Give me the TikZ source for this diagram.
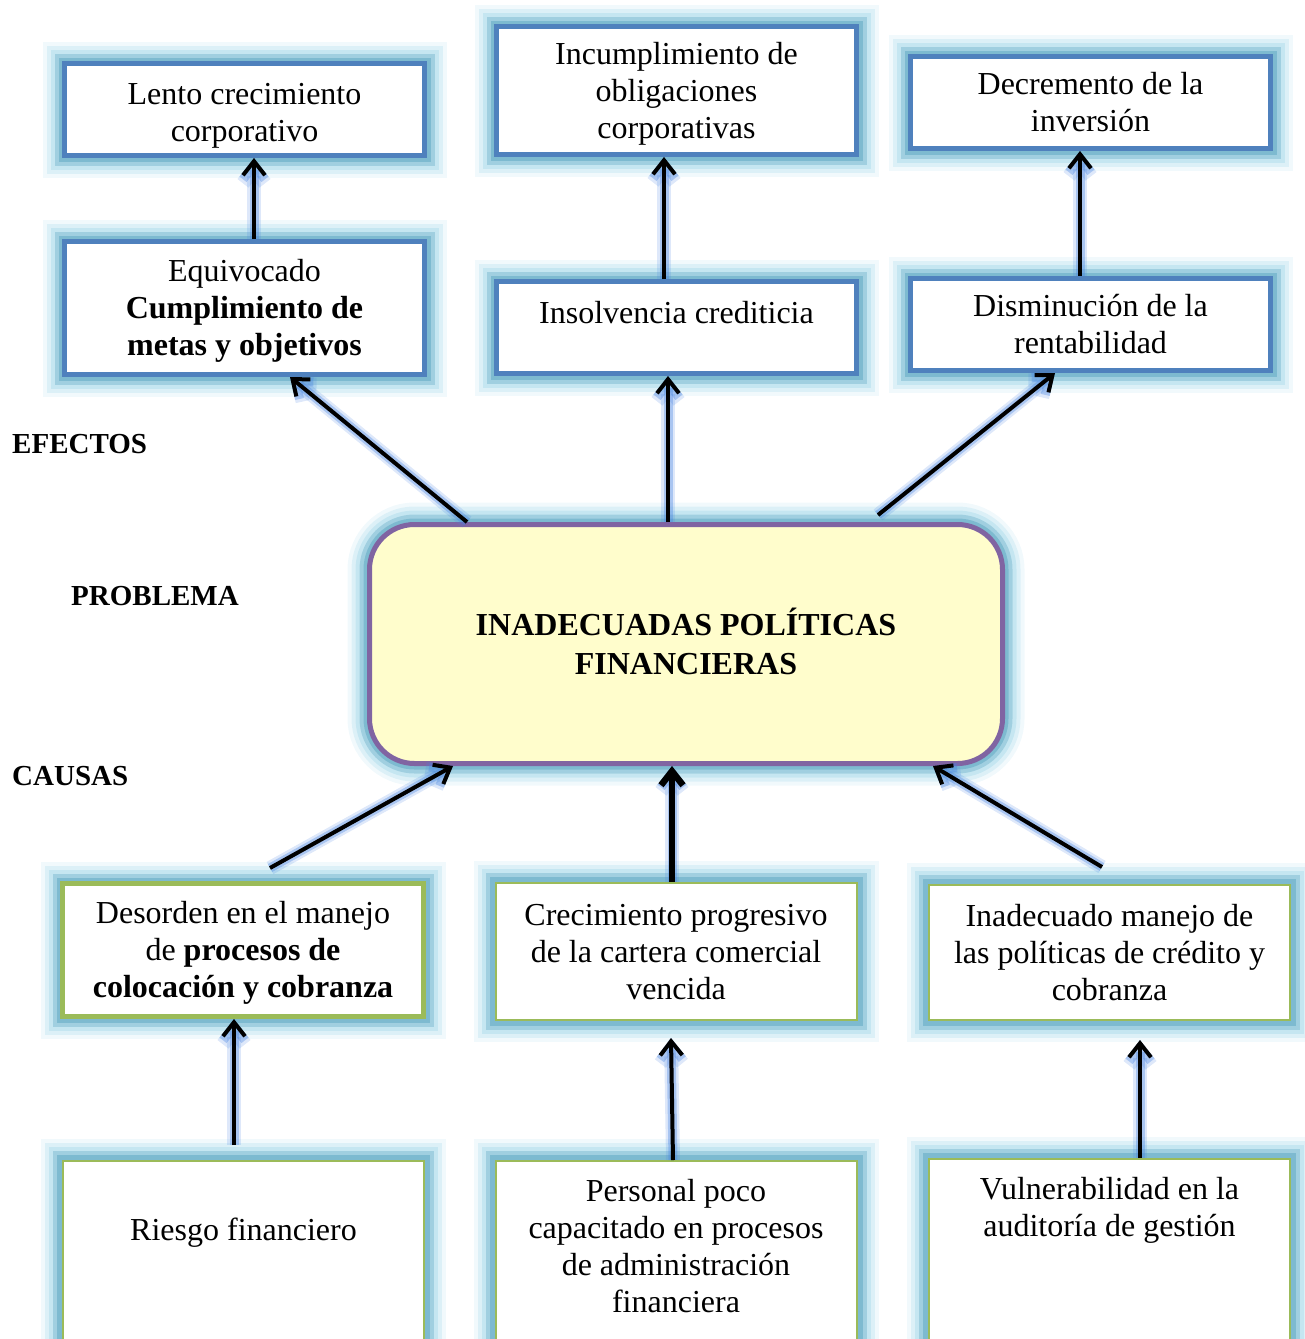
\documentclass[tikz,border=0pt]{standalone}
\usepackage{fontspec}
\setmainfont{Liberation Serif}
\usetikzlibrary{positioning}
\usetikzlibrary{calc}
\usetikzlibrary{arrows.meta}

\definecolor{effblue}{RGB}{79,129,189}
\definecolor{causegreen}{RGB}{155,187,89}
\definecolor{probpurple}{RGB}{128,100,162}
\definecolor{probyellow}{RGB}{255,253,204}
\definecolor{glowblue}{RGB}{115,195,222}
\definecolor{glowdark}{RGB}{75,155,185}
\definecolor{arrglow}{RGB}{70,130,225}

\newcommand\puntal{\rule[-7.5pt]{0pt}{36.5pt}}

\begin{document}
\begin{tikzpicture}[x=1pt,y=-1pt,
  glow/.style={preaction={draw=glowblue,line width=44pt,opacity=.1},
               preaction={draw=glowblue,line width=36pt,opacity=.16},
               preaction={draw=glowblue,line width=28pt,opacity=.22},
               preaction={draw=glowdark,line width=20pt,opacity=.3},
               preaction={draw=glowdark,line width=12pt,opacity=.4}},
  effect/.style={glow,draw=effblue,line width=5pt,fill=white,minimum width=360pt,align=center,inner sep=0pt},
  cause/.style={glow,draw=causegreen,line width=2pt,fill=white,minimum width=361pt,align=center,inner sep=0pt},
  flecha/.style={line width=4pt,-{Straight Barb[length=14pt,width=22pt]},
               preaction={draw=arrglow,line width=14pt,opacity=.18},
               preaction={draw=arrglow,line width=9pt,opacity=.35}},
  rotulo/.style={font=\fontsize{29}{34}\selectfont\bfseries,anchor=west,inner sep=0pt}]

\useasboundingbox (0,0) rectangle (1305,1339);
\clip (0,0) rectangle (1305,1339);

\fontsize{32}{37}\selectfont

% efectos
\node (lento) [effect,minimum height=92pt] at (244.5,109.5) {\rule[-7.5pt]{0pt}{42.5pt}Lento crecimiento\\corporativo\puntal};
\node (incumplimiento) [effect,minimum height=128pt] at (676.5,90.5) {\puntal Incumplimiento de\\obligaciones\\corporativas\puntal};
\node (decremento) [effect,minimum height=92pt] at (1090.5,102.5) {\puntal Decremento de la\\inversión\puntal};

\node (equivocado) [effect,minimum height=133pt] at (244.5,308) {\puntal Equivocado\\\textbf{Cumplimiento de}\\\textbf{metas y objetivos}\puntal};
\node (insolvencia) [effect,inner ysep=19.5pt] at (676.5,327.5) {\parbox[t][53pt][t]{340pt}{\centering Insolvencia crediticia}};
\node (disminucion) [effect,minimum height=92pt] at (1090.5,324.5) {\puntal Disminución de la\\rentabilidad\puntal};

\node (lblefectos) [rotulo] at (12,444) {EFECTOS};
\node (lblproblema) [rotulo] at (71,596) {PROBLEMA};
\node (lblcausas) [rotulo] at (12,776) {CAUSAS};

% problema
\node (problema) [glow,draw=probpurple,line width=5pt,fill=probyellow,rounded corners=45pt,
  minimum width=633pt,minimum height=239pt,align=center,
  font=\fontsize{32}{39}\selectfont\bfseries] at (686,644) {\puntal INADECUADAS POLÍTICAS\\FINANCIERAS\puntal};

% causas
\node (desorden) [cause,line width=5pt,minimum height=133pt] at (243,950) {\puntal Desorden en el manejo\\de \textbf{procesos de}\\\textbf{colocación y cobranza}\puntal};
\node (crecimiento) [cause,minimum height=137pt] at (676,951.5) {\puntal Crecimiento progresivo\\de la cartera comercial\\vencida\puntal};
\node (inadecuado) [cause,minimum height=135pt] at (1109.5,952.5) {\puntal Inadecuado manejo de\\las políticas de crédito y\\cobranza\puntal};

\node (riesgo) [cause,anchor=north,inner ysep=18pt] at (243.5,1160) {\parbox[t][200pt][t]{340pt}{\centering\vspace*{39pt}Riesgo financiero}};
\node (personal) [cause,anchor=north,inner ysep=18pt] at (676,1160) {\parbox[t][200pt][t]{340pt}{\centering Personal poco\\capacitado en procesos\\de administración\\financiera}};
\node (vulnerabilidad) [cause,anchor=north,inner ysep=18pt] at (1109.5,1158) {\parbox[t][200pt][t]{340pt}{\centering Vulnerabilidad en la\\auditoría de gestión}};

% flechas
\draw[flecha] ($(equivocado.north)+(9.5,0)$) -- ($(lento.south)+(9.5,0)$);
\draw[flecha] ($(insolvencia.north)+(-12.5,0)$) -- ($(incumplimiento.south)+(-12.5,0)$);
\draw[flecha] ($(disminucion.north)+(-10.5,0)$) -- ($(decremento.south)+(-10.5,0)$);

\draw[flecha] ($(problema.north)+(-219,0)$) -- ($(equivocado.south)+(45.5,0)$);
\draw[flecha] ($(problema.north)+(-18,0)$) -- ($(insolvencia.south)+(-8.5,0)$);
\draw[flecha] ($(problema.north)+(192,-7)$) -- ($(disminucion.south)+(-35.5,0)$);

\draw[flecha] ($(desorden.north)+(27,-13)$) -- ($(problema.south)+(-233,0)$);
\draw[flecha,line width=6.5pt] ($(crecimiento.north)+(-4,0)$) -- ($(problema.south)+(-14,0)$);
\draw[flecha] ($(inadecuado.north)+(-7.5,-17)$) -- ($(problema.south)+(247,0)$);

\draw[flecha] ($(riesgo.north)+(-9.5,-15)$) -- ($(desorden.south)+(-9,0)$);
\draw[flecha] ($(personal.north)+(-3,0)$) -- ($(crecimiento.south)+(-5,17)$);
\draw[flecha] ($(vulnerabilidad.north)+(30.5,0)$) -- ($(inadecuado.south)+(30.5,19)$);

\end{tikzpicture}
\end{document}
